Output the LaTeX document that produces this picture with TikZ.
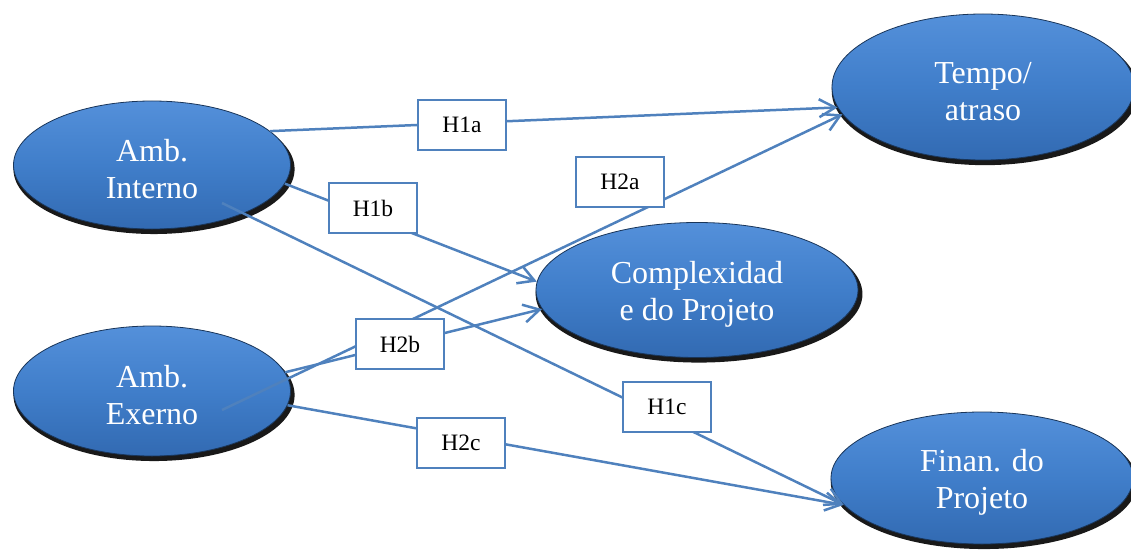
\documentclass[tikz,border=0pt]{standalone}
\usepackage{fontspec}
\setmainfont{Liberation Serif}
\usetikzlibrary{arrows.meta}
\usetikzlibrary{shapes.geometric}
\usetikzlibrary{shadows}
\definecolor{azul}{RGB}{79,129,189}
\definecolor{azulclaro}{RGB}{84,144,218}
\definecolor{azulmeio}{RGB}{64,126,202}
\definecolor{azulescuro}{RGB}{50,106,178}
\tikzset{
  elipse/.style={ellipse, draw=azulescuro!50!black, line width=0.8pt, top color=azulclaro, bottom color=azulescuro,
    middle color=azulmeio, text=white, align=center, inner sep=0pt, font=\fontsize{32}{37}\selectfont,
    text height=68pt,
    drop shadow={shadow xshift=2pt, shadow yshift=-4pt, shadow scale=1.015, fill=black, opacity=0.9}},
  hip/.style={rectangle, draw=azul, line width=2pt, fill=white, minimum width=88pt, minimum height=50pt,
    font=\fontsize{23.5}{28}\selectfont},
  seta/.style={draw=azul, line width=2.5pt, -{Straight Barb[length=16pt, width=18pt]}}
}

\begin{document}
\begin{tikzpicture}[x=1pt, y=-1pt]
    \useasboundingbox (0,0) rectangle (1131,559);

    \node[elipse, minimum width=277pt, minimum height=128pt] (interno) at (152,165) {Amb.\\Interno};
    \node[elipse, minimum width=277pt, minimum height=130pt] (externo) at (152,391) {Amb.\\Exerno};
    \node[elipse, minimum width=302pt, minimum height=146pt] (tempo) at (983,87) {Tempo/\\atraso};
    \node[elipse, minimum width=322pt, minimum height=135pt] (complex) at (697,290) {Complexidad\\e do Projeto};
    \node[elipse, minimum width=302pt, minimum height=132pt] (finan) at (982,478) {Finan. do\\Projeto};

    \coordinate (interno-c) at (222,203);
    \coordinate (externo-c) at (222,410);

    \draw[seta] (interno.16) -- (tempo.188);
    \draw[seta] (interno.-8) -- (complex.177);
    \draw[seta] (interno-c) -- (finan.191);
    \draw[seta] (externo-c) -- (tempo.191);
    \draw[seta] (externo.8) -- (complex.187);
    \draw[seta] (externo.-6) -- (finan.191);

    \node[hip] (h1a) at (462,125) {H1a};
    \node[hip] (h1b) at (373,208) {H1b};
    \node[hip] (h2a) at (620,182) {H2a};
    \node[hip] (h2b) at (400,344) {H2b};
    \node[hip] (h1c) at (667,407) {H1c};
    \node[hip] (h2c) at (461,443) {H2c};
\end{tikzpicture}
\end{document}
